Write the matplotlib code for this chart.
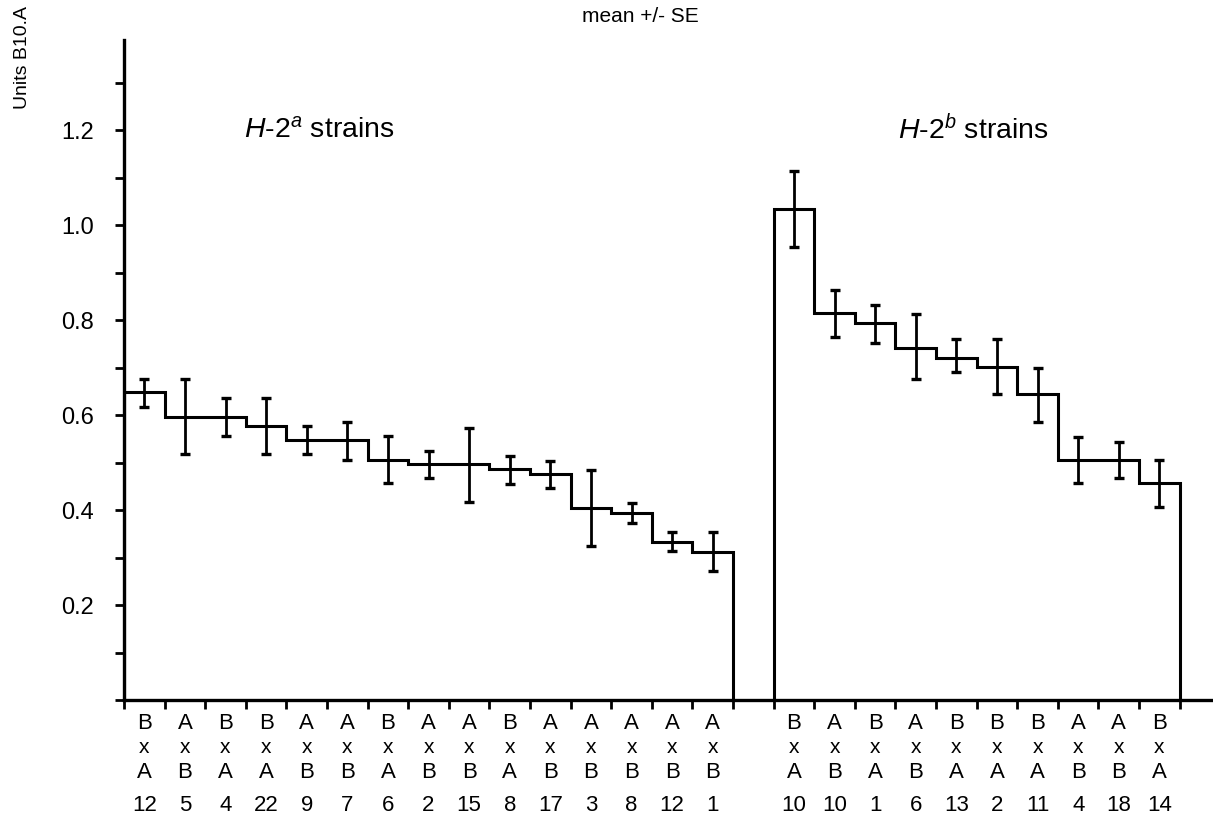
import matplotlib
matplotlib.use("Agg")
import matplotlib.pyplot as plt
import numpy as np

# H-2a strains (left block)
a_top = ["B", "A", "B", "B", "A", "A", "B", "A", "A", "B", "A", "A", "A", "A", "A"]
a_bottom = ["A", "B", "A", "A", "B", "B", "A", "B", "B", "A", "B", "B", "B", "B", "B"]
a_n = ["12", "5", "4", "22", "9", "7", "6", "2", "15", "8", "17", "3", "8", "12", "1"]
a_mean = [0.648, 0.596, 0.596, 0.577, 0.547, 0.547, 0.505, 0.496, 0.496, 0.486, 0.475, 0.405, 0.394, 0.332, 0.312]
a_lo = [0.617, 0.519, 0.556, 0.519, 0.519, 0.505, 0.457, 0.467, 0.416, 0.454, 0.446, 0.325, 0.372, 0.314, 0.272]
a_hi = [0.676, 0.675, 0.635, 0.636, 0.577, 0.586, 0.556, 0.525, 0.573, 0.514, 0.504, 0.484, 0.414, 0.353, 0.353]

# H-2b strains (right block)
b_top = ["B", "A", "B", "A", "B", "B", "B", "A", "A", "B"]
b_bottom = ["A", "B", "A", "B", "A", "A", "A", "B", "B", "A"]
b_n = ["10", "10", "1", "6", "13", "2", "11", "4", "18", "14"]
b_mean = [1.035, 0.815, 0.794, 0.742, 0.721, 0.702, 0.644, 0.505, 0.505, 0.456]
b_lo = [0.954, 0.764, 0.752, 0.675, 0.690, 0.644, 0.585, 0.457, 0.468, 0.407]
b_hi = [1.114, 0.864, 0.832, 0.813, 0.761, 0.760, 0.700, 0.554, 0.544, 0.505]

plt.rcParams.update({
    "font.family": ["Liberation Sans", "DejaVu Sans"],
    "font.size": 15,
    "mathtext.fontset": "custom",
    "mathtext.rm": "Liberation Sans",
    "mathtext.it": "Liberation Sans:italic",
    "axes.spines.top": False,
    "axes.spines.right": False,
})

fig = plt.figure(figsize=(12.13, 8.26), dpi=100)
ax = fig.add_axes([124 / 1213, 126 / 826, 1089 / 1213, 660 / 826])

LW = 2.2
blocks = [
    (0, a_mean, a_lo, a_hi, a_top, a_bottom, a_n),
    (16, b_mean, b_lo, b_hi, b_top, b_bottom, b_n),
]
tick_pos = []
for start, mean, lo, hi, top, bottom, n in blocks:
    mean = np.array(mean)
    edges = np.arange(start, start + len(mean) + 1)
    centers = edges[:-1] + 0.5
    tick_pos.extend(edges.tolist())
    ax.stairs(mean, edges, baseline=0, color="black", linewidth=LW)
    yerr = [mean - np.array(lo), np.array(hi) - mean]
    ax.errorbar(centers, mean, yerr=yerr, fmt="none", ecolor="black",
                elinewidth=2.0, capsize=3.5, capthick=2.4)
    trans = ax.get_xaxis_transform()
    # crosses written under each step: parent, "x", parent, number of mice
    for c, t, b, k in zip(centers, top, bottom, n):
        ax.text(c, -0.036, t, transform=trans, ha="center", va="center", fontsize=16, clip_on=False)
        ax.text(c, -0.072, "x", transform=trans, ha="center", va="center", fontsize=15, clip_on=False)
        ax.text(c, -0.110, b, transform=trans, ha="center", va="center", fontsize=16, clip_on=False)
        ax.text(c, -0.160, k, transform=trans, ha="center", va="center", fontsize=16, clip_on=False)

ax.set_xlim(0, 26.82)
ax.set_ylim(0, 1.39)
ax.set_xticks(sorted(set(tick_pos)))
ax.set_xticklabels([])
ax.set_yticks([0, 0.2, 0.4, 0.6, 0.8, 1.0, 1.2])
ax.set_yticklabels(["", "0.2", "0.4", "0.6", "0.8", "1.0", "1.2"])
ax.set_yticks([0.1, 0.3, 0.5, 0.7, 0.9, 1.1, 1.3], minor=True)
ax.tick_params(axis="y", which="both", direction="out", length=6.5, width=2, pad=15, labelsize=17)
ax.tick_params(axis="x", which="both", direction="out", length=6.5, width=2)
for s in ("left", "bottom"):
    ax.spines[s].set_linewidth(2.4)

ax.text(2.95, 1.2, r"$\mathit{H}$-$\mathit{2}^{\mathit{a}}$ strains", ha="left", va="center", fontsize=20.5)
ax.text(19.05, 1.2, r"$\mathit{H}$-$\mathit{2}^{\mathit{b}}$ strains", ha="left", va="center", fontsize=20.5)
fig.text(640 / 1213, 1 - 16 / 826, "mean +/- SE", ha="center", va="center", fontsize=15)
fig.text(23 / 1213, 1 - 6 / 826, "Units B10.A", rotation=90, ha="center", va="top", fontsize=14)

fig.savefig("out.png", dpi=100)
